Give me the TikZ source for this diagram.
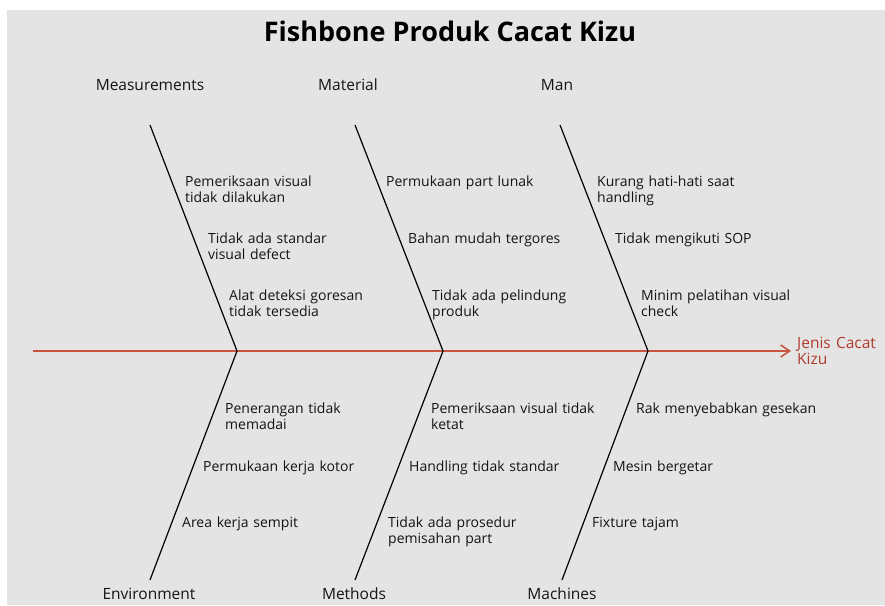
\documentclass[tikz,border=0pt]{standalone}
\usepackage{fontspec}
\setmainfont{Open Sans}
\usetikzlibrary{arrows.meta}
\definecolor{bgc}{HTML}{E4E4E4}
\definecolor{spinec}{HTML}{C9553F}
\definecolor{effectc}{HTML}{B03A2C}
\definecolor{txt}{HTML}{141414}
\begin{document}
\begin{tikzpicture}[x=1pt,y=-1pt,
  bone/.style={draw=black,line width=1.2pt},
  spineline/.style={draw=spinec,line width=1.5pt,-{Straight Barb[length=9pt,width=12pt,line width=1.5pt]}},
  cause/.style={anchor=base west,inner sep=0pt,text width=230pt,align=left,text=txt,font=\fontsize{14}{16}\selectfont},
  cat/.style={inner sep=0pt,text=txt,font=\fontsize{15.5}{18}\selectfont},
  title/.style={inner sep=0pt,text=black,font=\fontsize{27}{30}\selectfont\bfseries},
  effectbox/.style={anchor=base west,inner sep=0pt,text width=90pt,align=left,text=effectc,font=\fontsize{15.5}{16.5}\selectfont}]
\fill[white] (0,0) rectangle (885,605);
\fill[bgc] (7,10) rectangle (885,605);
\useasboundingbox (0,0) rectangle (885,605);

\node[title] (ttl) at (450,31) {Fishbone Produk Cacat Kizu};

% category labels
\node[cat] (meas) at (150,85) {Measurements};
\node[cat] (matl) at (348,85) {Material};
\node[cat] (man) at (557,85) {Man};
\node[cat] (env) at (149,594) {Environment};
\node[cat] (meth) at (354,594) {Methods};
\node[cat] (mach) at (562,594) {Machines};

% bone points
\coordinate (mt) at (150,125);
\coordinate (j1) at (237,351);
\coordinate (eb) at (150,580);
\coordinate (matt) at (355,125);
\coordinate (j2) at (443,351);
\coordinate (methb) at (355,580);
\coordinate (mant) at (560,125);
\coordinate (j3) at (648,351);
\coordinate (machb) at (562,580);
\coordinate (tail) at (33,351);
\coordinate (head) at (791,351);

\draw[spineline] (tail) -- (head);
\draw[bone] (mt) -- (j1) -- (eb);
\draw[bone] (matt) -- (j2) -- (methb);
\draw[bone] (mant) -- (j3) -- (machb);

\node[effectbox] (eff) at (797,348) {Jenis Cacat\\Kizu};

% Measurements causes
\node[cause] (m1) at (185,186) {Pemeriksaan visual\\tidak dilakukan};
\node[cause] (m2) at (208,243) {Tidak ada standar\\visual defect};
\node[cause] (m3) at (229,300) {Alat deteksi goresan\\tidak tersedia};
% Material causes
\node[cause] (a1) at (386,186) {Permukaan part lunak};
\node[cause] (a2) at (408,243) {Bahan mudah tergores};
\node[cause] (a3) at (432,300) {Tidak ada pelindung\\produk};
% Man causes
\node[cause] (n1) at (597,186) {Kurang hati-hati saat\\handling};
\node[cause] (n2) at (615,243) {Tidak mengikuti SOP};
\node[cause] (n3) at (641,300) {Minim pelatihan visual\\check};
% Environment causes
\node[cause] (e1) at (225,413) {Penerangan tidak\\memadai};
\node[cause] (e2) at (203,471) {Permukaan kerja kotor};
\node[cause] (e3) at (182,527) {Area kerja sempit};
% Methods causes
\node[cause] (t1) at (431,413) {Pemeriksaan visual tidak\\ketat};
\node[cause] (t2) at (409,471) {Handling tidak standar};
\node[cause] (t3) at (388,527) {Tidak ada prosedur\\pemisahan part};
% Machines causes
\node[cause] (c1) at (636,413) {Rak menyebabkan gesekan};
\node[cause] (c2) at (613,471) {Mesin bergetar};
\node[cause] (c3) at (592,527) {Fixture tajam};
\end{tikzpicture}
\end{document}
